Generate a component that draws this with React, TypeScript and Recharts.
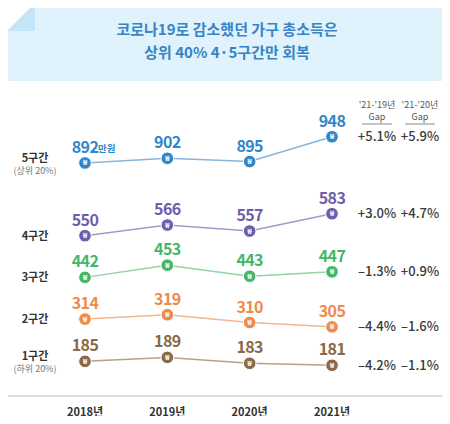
import { LineChart, Line, XAxis, YAxis, LabelList } from 'recharts'

// 가구 총소득 (만원), 소득 5분위별
const years = ['2018년', '2019년', '2020년', '2021년']
const q5 = [892, 902, 895, 948]
const q4 = [550, 566, 557, 583]
const q3 = [442, 453, 443, 447]
const q2 = [314, 319, 310, 305]
const q1 = [185, 189, 183, 181]

// '21-'19 / '21-'20 gap
const gap19 = ['+5.1%', '+3.0%', '–1.3%', '–4.4%', '–4.2%']
const gap20 = ['+5.9%', '+4.7%', '+0.9%', '–1.6%', '–1.1%']

const rowLabels = ['5구간', '4구간', '3구간', '2구간', '1구간']
const rowSubs = ['(상위 20%)', '', '', '', '(하위 20%)']

const KR = "'Noto Sans CJK KR', 'Noto Sans', sans-serif"

const series = [
  { key: 'q5', color: '#2f86c9', line: '#86b5dc', domain: [394, 1048] },
  { key: 'q4', color: '#6c5eab', line: '#a398cc', domain: [309, 769] },
  { key: 'q3', color: '#45b567', line: '#93d3a5', domain: [335, 611] },
  { key: 'q2', color: '#f0894a', line: '#f4b590', domain: [225, 579] },
  { key: 'q1', color: '#8a6a46', line: '#b9a186', domain: [150, 459] },
]

const data = years.map((year, i) => ({
  year,
  q5: q5[i],
  q4: q4[i],
  q3: q3[i],
  q2: q2[i],
  q1: q1[i],
}))

const makeDot = (color: string) => (props: any) => {
  const { cx, cy, index } = props
  if (cx == null || cy == null) return <g key={index} />
  return (
    <g key={index}>
      <circle cx={cx} cy={cy} r={6.3} fill={color} stroke="#fff" strokeWidth={1} />
      <text
        x={cx}
        y={cy + 2.5}
        textAnchor="middle"
        fontSize={7}
        fontWeight="bold"
        fill="#fff"
        fontFamily={KR}
      >
        ₩
      </text>
    </g>
  )
}

const makeValueLabel = (color: string, row: number) => (props: any) => {
  const { x, y, value, index } = props
  return (
    <g key={index}>
      <text
        x={x}
        y={y - 10}
        textAnchor="middle"
        fontSize={16}
        fontWeight={600}
        letterSpacing={-0.6}
        fill={color}
        fontFamily={KR}
      >
        {value}
      </text>
      {row === 0 && index === 0 && (
        <text x={x + 13} y={y - 11} fontSize={9.5} fontWeight="bold" fill={color} fontFamily={KR}>
          만원
        </text>
      )}
    </g>
  )
}

// row name on the left of the first point, gaps to the right of the last one
const makeSideLabel = (row: number) => (props: any) => {
  const { x, y, index } = props
  if (index === 0) {
    const sub = rowSubs[row]
    return (
      <g key="side0">
        <text
          x={x - 50}
          y={y + (sub ? -5 : 0) + 4}
          textAnchor="middle"
          fontSize={11}
          fontWeight="bold"
          fill="#333"
          fontFamily={KR}
        >
          {rowLabels[row]}
        </text>
        {sub && (
          <text x={x - 50} y={y + 11} textAnchor="middle" fontSize={9} fill="#777" fontFamily={KR}>
            {sub}
          </text>
        )}
      </g>
    )
  }
  if (index === years.length - 1) {
    return (
      <g key="side3">
        <text x={x + 45} y={y + 4.5} textAnchor="middle" fontSize={13} fontWeight={500} fill="#3a3a3a" fontFamily={KR}>
          {gap19[row]}
        </text>
        <text x={x + 88} y={y + 4.5} textAnchor="middle" fontSize={13} fontWeight={500} fill="#3a3a3a" fontFamily={KR}>
          {gap20[row]}
        </text>
      </g>
    )
  }
  return <g key={'side' + index} />
}

export default function App() {
  return (
    <div
      style={{
        position: 'relative',
        width: 450,
        height: 424,
        margin: -8,
        background: '#fff',
        overflow: 'hidden',
        fontFamily: KR,
      }}
    >
      {/* title box with folded corner */}
      <svg width={450} height={84} style={{ position: 'absolute', left: 0, top: 0 }}>
        <polygon points="35,3 447,3 447,81 7,81 7,31" fill="#e0f2fc" />
        <polygon points="35,3 35,31 7,31" fill="#c4e6f8" />
        <text x={227} y={35} textAnchor="middle" fontSize={15} fontWeight="bold" fill="#3784c6" fontFamily={KR}>
          코로나19로 감소했던 가구 총소득은
        </text>
        <text x={227} y={58} textAnchor="middle" fontSize={15} fontWeight="bold" fill="#3784c6" fontFamily={KR}>
          상위 40% 4·5구간만 회복
        </text>
      </svg>

      {/* gap column headers */}
      <svg width={450} height={130} style={{ position: 'absolute', left: 0, top: 0 }}>
        {[
          { x: 377, t: "'21-'19년" },
          { x: 420, t: "'21-'20년" },
        ].map((h) => (
          <g key={h.x}>
            <text x={h.x} y={107.5} textAnchor="middle" fontSize={9} fill="#555" fontFamily={KR}>
              {h.t}
            </text>
            <text x={h.x} y={119.5} textAnchor="middle" fontSize={9} fill="#555" fontFamily={KR}>
              Gap
            </text>
            <line x1={h.x - 15} x2={h.x + 15} y1={124} y2={124} stroke="#888" strokeWidth={1} />
          </g>
        ))}
      </svg>

      <div style={{ position: 'absolute', left: 0, top: 0 }}>
        <LineChart width={450} height={424} data={data} margin={{ top: 90, right: 3, bottom: 0, left: 7 }}>
          <XAxis
            dataKey="year"
            scale="point"
            height={28}
            padding={{ left: 78, right: 115 }}
            axisLine={{ stroke: '#bdbdbd', strokeWidth: 1.2 }}
            tickLine={false}
            tickMargin={6}
            tick={{ fontSize: 11, fontWeight: 'bold', fill: '#333', fontFamily: KR }}
          />
          {series.map((s) => (
            <YAxis key={s.key} yAxisId={s.key} type="number" domain={s.domain} hide allowDataOverflow />
          ))}
          {series.map((s, row) => (
            <Line
              key={s.key}
              yAxisId={s.key}
              dataKey={s.key}
              type="linear"
              stroke={s.line}
              strokeWidth={1.5}
              dot={makeDot(s.color)}
              activeDot={false}
              isAnimationActive={false}
            >
              <LabelList dataKey={s.key} content={makeValueLabel(s.color, row)} />
              <LabelList dataKey={s.key} content={makeSideLabel(row)} />
            </Line>
          ))}
        </LineChart>
      </div>
    </div>
  )
}
